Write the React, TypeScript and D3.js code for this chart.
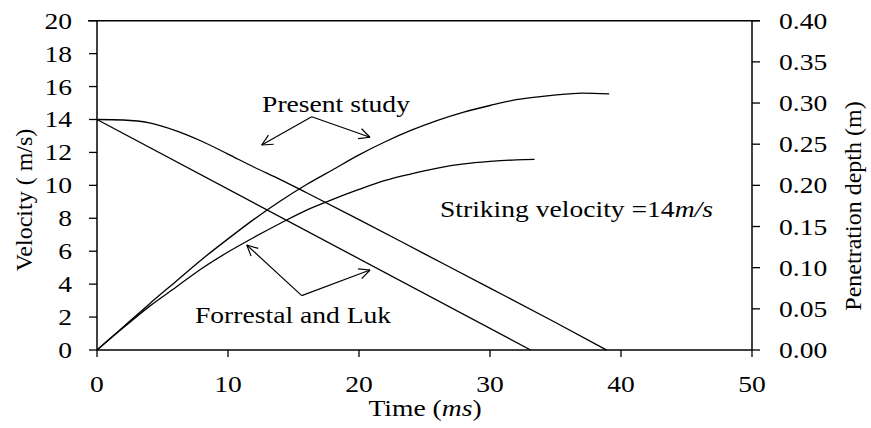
import React, { useEffect, useRef } from "react";
import * as d3 from "d3";

// time in ms, velocity in m/s, depth in m
const presentVelocity: [number, number][] = [
  [0, 14], [2, 13.97], [4, 13.8], [6, 13.33], [8, 12.68], [10, 11.9], [12, 11.1],
  [14, 10.35], [16, 9.55], [20, 7.92], [25, 5.84], [30, 3.76], [35, 1.67], [38.9, 0],
];
const forrestalVelocity: [number, number][] = [
  [0, 14], [33.1, 0],
];
const presentDepth: [number, number][] = [
  [0, 0], [2, 0.028], [4, 0.056], [6, 0.083], [8, 0.11], [10, 0.135], [12, 0.159],
  [14, 0.181], [16, 0.201], [18, 0.219], [20, 0.237], [22, 0.253], [24, 0.267],
  [26, 0.279], [28, 0.289], [30, 0.297], [32, 0.304], [34, 0.308], [36, 0.311],
  [37, 0.312], [39.1, 0.311],
];
const forrestalDepth: [number, number][] = [
  [0, 0], [2, 0.027], [4, 0.053], [6, 0.076], [8, 0.099], [10, 0.119], [12, 0.137],
  [14, 0.154], [16, 0.17], [18, 0.183], [20, 0.195], [22, 0.206], [24, 0.214],
  [26, 0.221], [28, 0.226], [30, 0.229], [32, 0.231], [33.4, 0.2315],
];

const xTicks = [0, 10, 20, 30, 40, 50];
const velocityTicks = [0, 2, 4, 6, 8, 10, 12, 14, 16, 18, 20];
const depthTicks = [0, 0.05, 0.1, 0.15, 0.2, 0.25, 0.3, 0.35, 0.4];

// annotation arrows: apex and two tips, in (time, velocity) units
const presentArrows = { apex: [16.39, 14.17], tips: [[12.57, 12.45], [20.84, 12.92]] };
const forrestalArrows = { apex: [15.63, 3.3], tips: [[11.43, 6.38], [20.84, 4.86]] };

const FONT = "'Liberation Serif', 'Times New Roman', serif";
const FS = 23;
const SX = 1.2;

export default function App() {
  const ref = useRef<SVGSVGElement>(null);

  useEffect(() => {
    const svg = d3.select(ref.current);
    svg.selectAll("*").remove();

    const x = d3.scaleLinear().domain([0, 50]).range([97, 752]);
    const yV = d3.scaleLinear().domain([0, 20]).range([350, 20.7]);
    const yD = d3.scaleLinear().domain([0, 0.4]).range([350, 20.7]);

    const g = svg.append("g");

    const text = (px: number, py: number, anchor: string) =>
      g
        .append("text")
        .attr("transform", `translate(${px},${py}) scale(${SX},1)`)
        .attr("text-anchor", anchor)
        .style("font-family", FONT)
        .style("font-size", `${FS}px`)
        .attr("fill", "#000");

    // frame
    g.append("line").attr("x1", 88).attr("x2", 760).attr("y1", yV(20)).attr("y2", yV(20))
      .attr("stroke", "#000").attr("stroke-width", 1.5);
    g.append("line").attr("x1", x(0)).attr("x2", x(0)).attr("y1", yV(20)).attr("y2", yV(0))
      .attr("stroke", "#000").attr("stroke-width", 1.5);
    g.append("line").attr("x1", x(50)).attr("x2", x(50)).attr("y1", yV(20)).attr("y2", yV(0))
      .attr("stroke", "#000").attr("stroke-width", 1.5);
    g.append("line").attr("x1", x(0)).attr("x2", x(50)).attr("y1", yV(0)).attr("y2", yV(0))
      .attr("stroke", "#000").attr("stroke-width", 1.5);

    // left ticks
    velocityTicks.forEach((v) => {
      g.append("line").attr("x1", x(0) - 8).attr("x2", x(0)).attr("y1", yV(v)).attr("y2", yV(v))
        .attr("stroke", "#000").attr("stroke-width", 1.3);
      text(72, yV(v) + 8, "end").text(String(v));
    });

    // right ticks
    depthTicks.forEach((d) => {
      g.append("line").attr("x1", x(50)).attr("x2", x(50) + 8).attr("y1", yD(d)).attr("y2", yD(d))
        .attr("stroke", "#000").attr("stroke-width", 1.3);
      text(779, yD(d) + 8, "start").text(d.toFixed(2));
    });

    // bottom ticks
    xTicks.forEach((t) => {
      g.append("line").attr("x1", x(t)).attr("x2", x(t)).attr("y1", yV(0)).attr("y2", yV(0) + 7)
        .attr("stroke", "#000").attr("stroke-width", 1.3);
      text(x(t), 392, "middle").text(String(t));
    });

    // axis titles
    const tt = text(425, 416, "middle");
    tt.append("tspan").text("Time (");
    tt.append("tspan").style("font-style", "italic").text("ms");
    tt.append("tspan").text(")");

    g.append("text")
      .attr("transform", `translate(32,200) rotate(-90)`)
      .attr("text-anchor", "middle")
      .style("font-family", FONT)
      .style("font-size", `${FS + 1}px`)
      .text("Velocity ( m/s)");

    g.append("text")
      .attr("transform", `translate(861,206) rotate(-90)`)
      .attr("text-anchor", "middle")
      .style("font-family", FONT)
      .style("font-size", `${FS + 1}px`)
      .text("Penetration depth (m)");

    // curves
    const lineV = d3.line<[number, number]>().x((d) => x(d[0])).y((d) => yV(d[1])).curve(d3.curveMonotoneX);
    const lineD = d3.line<[number, number]>().x((d) => x(d[0])).y((d) => yD(d[1])).curve(d3.curveMonotoneX);

    [presentVelocity, forrestalVelocity].forEach((s) =>
      g.append("path").attr("d", lineV(s)).attr("fill", "none").attr("stroke", "#000").attr("stroke-width", 1.3)
    );
    [presentDepth, forrestalDepth].forEach((s) =>
      g.append("path").attr("d", lineD(s)).attr("fill", "none").attr("stroke", "#000").attr("stroke-width", 1.3)
    );

    // arrows
    const drawArrows = (a: { apex: number[]; tips: number[][] }) => {
      const ax = x(a.apex[0]);
      const ay = yV(a.apex[1]);
      a.tips.forEach((tp) => {
        const tx = x(tp[0]);
        const ty = yV(tp[1]);
        g.append("line").attr("x1", ax).attr("y1", ay).attr("x2", tx).attr("y2", ty)
          .attr("stroke", "#000").attr("stroke-width", 1.2);
        const ang = Math.atan2(ay - ty, ax - tx);
        const len = 12;
        const spread = 0.45;
        [ang - spread, ang + spread].forEach((a2) => {
          g.append("line").attr("x1", tx).attr("y1", ty)
            .attr("x2", tx + len * Math.cos(a2)).attr("y2", ty + len * Math.sin(a2))
            .attr("stroke", "#000").attr("stroke-width", 1.2);
        });
      });
    };
    drawArrows(presentArrows);
    drawArrows(forrestalArrows);

    // annotations
    text(x(12.6), yV(14.46), "start").text("Present study");
    text(x(7.48), yV(1.64), "start").text("Forrestal and Luk");
    const st = text(x(26.18), yV(8.1), "start");
    st.append("tspan").text("Striking velocity =14");
    st.append("tspan").style("font-style", "italic").text("m/s");
  }, []);

  return (
    <svg
      ref={ref}
      width={871}
      height={428}
      style={{ position: "absolute", left: 0, top: 0, background: "#fff" }}
    />
  );
}
